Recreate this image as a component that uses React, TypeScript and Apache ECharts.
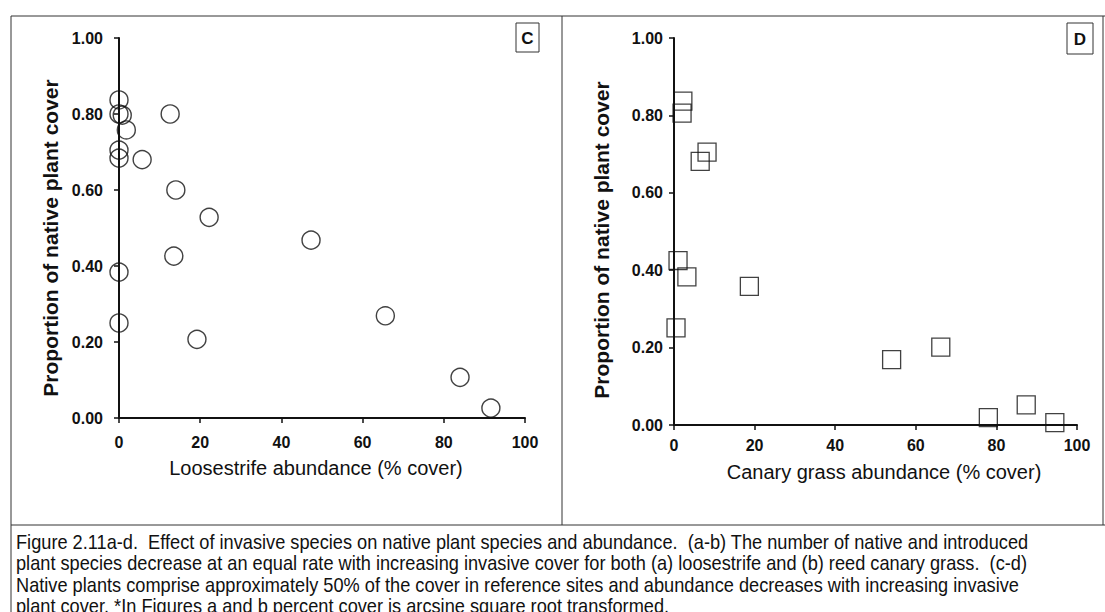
import React, { useEffect, useRef } from "react";
import * as echarts from "echarts";

// Panel C: loosestrife cover vs. proportion of native plant cover
const looseCover = [0, 0, 0.8, 1.8, 0, 0, 5.7, 12.6, 14, 22.2, 13.5, 0, 0, 19.2, 47.3, 65.6, 84, 91.6];
const looseNative = [0.837, 0.8, 0.797, 0.758, 0.705, 0.684, 0.68, 0.8, 0.6, 0.528, 0.426, 0.384, 0.25, 0.207, 0.468, 0.269, 0.107, 0.026];

// Panel D: reed canary grass cover vs. proportion of native plant cover
const canaryCover = [2.2, 2.0, 8.2, 6.5, 1.0, 3.2, 18.7, 0.5, 54.0, 66.2, 78.0, 87.4, 94.5];
const canaryNative = [0.837, 0.806, 0.705, 0.681, 0.425, 0.383, 0.358, 0.251, 0.169, 0.201, 0.019, 0.052, 0.006];

const xTitles = ["Loosestrife abundance (% cover)", "Canary grass abundance (% cover)"];
const yTitle = "Proportion of native plant cover";
const panelLetters = ["C", "D"];

const captionLines = [
  "Figure 2.11a-d.  Effect of invasive species on native plant species and abundance.  (a-b) The number of native and introduced",
  "plant species decrease at an equal rate with increasing invasive cover for both (a) loosestrife and (b) reed canary grass.  (c-d)",
  "Native plants comprise approximately 50% of the cover in reference sites and abundance decreases with increasing invasive",
  "plant cover. *In Figures a and b percent cover is arcsine square root transformed.",
];

const FONT = "'Liberation Sans', Arial, sans-serif";
const INK = "#111";

function valueAxisX(gridIndex: number, labelMargin: number) {
  return {
    type: "value" as const,
    gridIndex,
    min: 0,
    max: 100,
    interval: 20,
    splitLine: { show: false },
    axisLine: { show: true, lineStyle: { color: INK, width: 2 } },
    axisTick: { show: true, inside: false, length: 5, lineStyle: { color: INK, width: 1.5 } },
    axisLabel: { color: INK, fontFamily: FONT, fontSize: 16, fontWeight: "bold" as const, margin: labelMargin },
  };
}

function valueAxisY(gridIndex: number, labelMargin: number) {
  return {
    type: "value" as const,
    gridIndex,
    min: 0,
    max: 1,
    interval: 0.2,
    splitLine: { show: false },
    axisLine: { show: true, lineStyle: { color: INK, width: 2 } },
    axisTick: { show: true, inside: false, length: 5, lineStyle: { color: INK, width: 1.5 } },
    axisLabel: {
      color: INK,
      fontFamily: FONT,
      fontSize: 16,
      fontWeight: "bold" as const,
      margin: labelMargin,
      formatter: (v: number) => v.toFixed(2),
    },
  };
}

function frameLine(x1: number, y1: number, x2: number, y2: number) {
  return {
    type: "line",
    shape: { x1, y1, x2, y2 },
    style: { stroke: "#333", lineWidth: 1 },
    silent: true,
  };
}

export default function App() {
  const ref = useRef<HTMLDivElement>(null);

  useEffect(() => {
    if (!ref.current) return;
    const chart = echarts.init(ref.current, undefined, { renderer: "svg" });

    const looseData = looseCover.map((x, i) => [x, looseNative[i]]);
    const canaryData = canaryCover.map((x, i) => [x, canaryNative[i]]);

    const letterBoxes = [
      { x: 516, y: 23, w: 23, h: 29, label: panelLetters[0] },
      { x: 1067, y: 23, w: 26, h: 31, label: panelLetters[1] },
    ].flatMap((b) => [
      {
        type: "rect",
        shape: { x: b.x, y: b.y, width: b.w, height: b.h },
        style: { fill: "#fff", stroke: "#333", lineWidth: 1 },
        silent: true,
      },
      {
        type: "text",
        x: b.x + b.w / 2,
        y: b.y + b.h / 2 + 1,
        style: {
          text: b.label,
          fill: INK,
          font: `bold 17px ${FONT}`,
          align: "center",
          verticalAlign: "middle",
        },
        silent: true,
      },
    ]);

    const titles = [
      { x: 316, y: 468, text: xTitles[0], rot: 0, font: `20px ${FONT}` },
      { x: 884, y: 472, text: xTitles[1], rot: 0, font: `20px ${FONT}` },
      { x: 50, y: 238, text: yTitle, rot: Math.PI / 2, font: `bold 21px ${FONT}` },
      { x: 601, y: 240, text: yTitle, rot: Math.PI / 2, font: `bold 21px ${FONT}` },
    ].map((t) => ({
      type: "text",
      x: t.x,
      y: t.y,
      rotation: t.rot,
      style: {
        text: t.text,
        fill: INK,
        font: t.font,
        align: "center",
        verticalAlign: "middle",
      },
      silent: true,
    }));

    const caption = captionLines.map((line, i) => ({
      type: "text",
      x: 16,
      y: 542 + i * 21.5,
      scaleX: 0.91,
      style: {
        text: line,
        fill: INK,
        font: `20px ${FONT}`,
        align: "left",
        verticalAlign: "middle",
      },
      silent: true,
    }));

    chart.setOption({
      animation: false,
      backgroundColor: "#fff",
      grid: [
        { left: 119, top: 38, width: 406, height: 380 },
        { left: 674, top: 38, width: 403, height: 387 },
      ],
      xAxis: [valueAxisX(0, 16), valueAxisX(1, 12)],
      yAxis: [valueAxisY(0, 16), valueAxisY(1, 11)],
      series: [
        {
          type: "scatter",
          xAxisIndex: 0,
          yAxisIndex: 0,
          data: looseData,
          symbol: "circle",
          symbolSize: 18,
          clip: false,
          itemStyle: { color: "rgba(0,0,0,0)", borderColor: INK, borderWidth: 1.4 },
        },
        {
          type: "scatter",
          xAxisIndex: 1,
          yAxisIndex: 1,
          data: canaryData,
          symbol: "rect",
          symbolSize: 18,
          clip: false,
          itemStyle: { color: "rgba(0,0,0,0)", borderColor: INK, borderWidth: 1.3 },
        },
      ],
      graphic: [
        frameLine(11, 16, 1105, 16),
        frameLine(11, 16, 11, 612),
        frameLine(562, 16, 562, 525),
        frameLine(1103, 16, 1103, 525),
        frameLine(11, 525, 1105, 525),
        ...letterBoxes,
        ...titles,
        ...caption,
      ],
    });

    return () => chart.dispose();
  }, []);

  return (
    <div
      ref={ref}
      style={{ position: "absolute", left: 0, top: 0, width: 1105, height: 612, background: "#fff" }}
    />
  );
}
